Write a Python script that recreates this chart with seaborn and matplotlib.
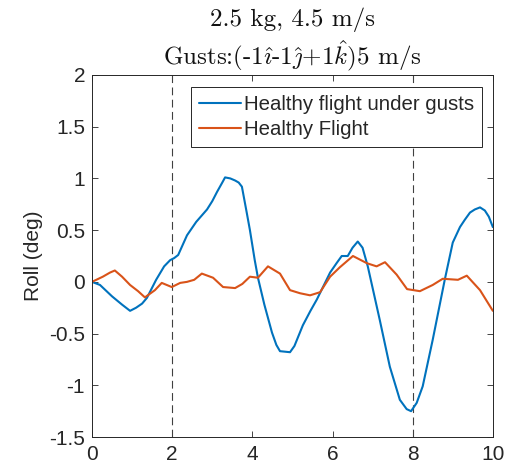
import matplotlib
matplotlib.use("Agg")
import matplotlib.pyplot as plt
import seaborn as sns
import pandas as pd

# Roll response, sampled time (s) and roll angle (deg)
t_gust = [0, 0.2, 0.5, 0.75, 0.95, 1.1, 1.25, 1.37, 1.6, 1.8, 1.95, 2.05, 2.15,
          2.37, 2.6, 2.87, 3.0, 3.12, 3.25, 3.32, 3.45, 3.57, 3.66, 3.74, 3.86,
          3.94, 4.06, 4.14, 4.3, 4.49, 4.6, 4.69, 4.94, 5.05, 5.26, 5.45, 5.61,
          5.94, 6.1, 6.23, 6.38, 6.5, 6.63, 6.75, 6.88, 7.18, 7.43, 7.68, 7.85,
          7.96, 8.1, 8.25, 8.5, 8.8, 9.0, 9.18, 9.3, 9.43, 9.55, 9.68, 9.8,
          9.9, 10.0]
roll_gust = [0, -0.03, -0.14, -0.22, -0.28, -0.25, -0.21, -0.155, 0.02, 0.15,
             0.21, 0.23, 0.26, 0.45, 0.58, 0.70, 0.78, 0.87, 0.96, 1.01, 1.0,
             0.98, 0.96, 0.92, 0.67, 0.50, 0.21, 0.04, -0.22, -0.49, -0.61,
             -0.67, -0.68, -0.62, -0.42, -0.28, -0.17, 0.09, 0.18, 0.25, 0.25,
             0.33, 0.39, 0.33, 0.15, -0.37, -0.82, -1.14, -1.23, -1.25, -1.17,
             -1.01, -0.56, 0.02, 0.38, 0.53, 0.60, 0.67, 0.70, 0.72, 0.69,
             0.63, 0.53]

t_healthy = [0, 0.27, 0.45, 0.57, 0.75, 0.95, 1.15, 1.32, 1.57, 1.74, 1.99, 2.2,
             2.37, 2.55, 2.74, 3.02, 3.27, 3.57, 3.75, 3.94, 4.14, 4.39, 4.69,
             4.94, 5.19, 5.44, 5.69, 5.94, 6.18, 6.51, 6.86, 7.1, 7.31, 7.6, 7.86,
             8.18, 8.5, 8.75, 9.13, 9.35, 9.68, 10.0]
roll_healthy = [0, 0.05, 0.09, 0.11, 0.05, -0.03, -0.09, -0.15, -0.08, -0.01,
                -0.05, -0.01, 0.0, 0.02, 0.08, 0.04, -0.05, -0.06, -0.02, 0.05,
                0.04, 0.15, 0.08, -0.08, -0.11, -0.13, -0.10, 0.05, 0.14, 0.25,
                0.18, 0.15, 0.19, 0.07, -0.07, -0.09, -0.03, 0.03, 0.02, 0.06,
                -0.08, -0.28]

series_names = ["Healthy flight under gusts", "Healthy Flight"]
event_times = [2, 8]
x_ticks = [0, 2, 4, 6, 8, 10]
y_ticks = [-1.5, -1, -0.5, 0, 0.5, 1, 1.5, 2]

df = pd.concat([
    pd.DataFrame({"t": t_gust, "roll": roll_gust, "case": series_names[0]}),
    pd.DataFrame({"t": t_healthy, "roll": roll_healthy, "case": series_names[1]}),
], ignore_index=True)

sns.set_theme(style="white")
plt.rcParams["font.family"] = ["Liberation Sans", "DejaVu Sans"]
plt.rcParams["mathtext.fontset"] = "cm"

fig = plt.figure(figsize=(5.06, 4.74), dpi=100)
ax = fig.add_axes([0.1818, 0.078, 0.974 - 0.1818, 0.8418 - 0.078])

sns.lineplot(data=df, x="t", y="roll", hue="case", hue_order=series_names,
             palette=["#0072BD", "#D95319"], linewidth=1.5, sort=False,
             estimator=None, ax=ax)

for xv in event_times:
    ax.axvline(xv, color="#404040", linestyle=(0, (7, 4)), linewidth=0.8, zorder=1)

ax.set_xlim(0, 10)
ax.set_ylim(-1.5, 2)
ax.set_xticks(x_ticks)
ax.set_xticklabels([f"{v:g}" for v in x_ticks])
ax.set_yticks(y_ticks)
ax.set_yticklabels([f"{v:g}" for v in y_ticks])
ax.set_xlabel("")
ax.set_ylabel("Roll (deg)", fontsize=15, color="#262626", labelpad=4)

ax.tick_params(direction="in", length=4, width=0.6, colors="#262626",
               labelsize=15, top=True, right=True, bottom=True, left=True,
               pad=5)
ax.tick_params(axis="x", pad=6)
for s in ax.spines.values():
    s.set_color("#262626")
    s.set_linewidth(0.7)

ax.set_title("2.5 kg, 4.5 m/s\nGusts:(-1$\\hat{\\imath}$-1$\\hat{\\jmath}$+1$\\hat{k}$)5 m/s",
             fontsize=18, family="cmr10", color="#111111", pad=7, linespacing=1.25)

leg = ax.legend(loc="upper right", bbox_to_anchor=(0.9726, 0.967), fontsize=14.7,
                frameon=True, fancybox=False, edgecolor="#262626",
                handlelength=2.05, borderpad=0.38, labelspacing=0.32,
                handletextpad=0.15, borderaxespad=0)
leg.get_frame().set_linewidth(0.7)
leg.get_frame().set_alpha(1)
leg.set_title(None)

fig.savefig("out.png", dpi=100)
